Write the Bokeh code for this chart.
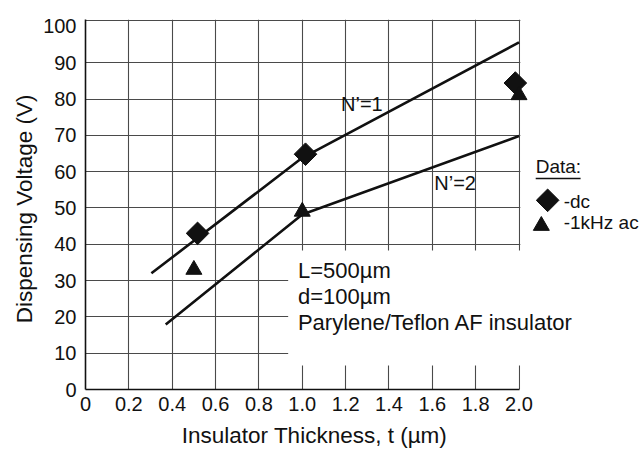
import numpy as np
from bokeh.plotting import figure
from bokeh.layouts import row, column
from bokeh.models import FixedTicker, Label, Range1d
from bokeh.core.properties import value
from bokeh.embed import file_html
from bokeh.resources import INLINE

# ---------------- data ----------------
thickness_dc = [0.517, 1.015, 1.983]
voltage_dc = [43.0, 64.8, 84.4]

thickness_ac = [0.50, 1.00, 2.00]
voltage_ac = [33.0, 49.0, 81.1]

n1_thickness = [0.304, 1.0, 2.0]
n1_voltage = [32.0, 63.8, 95.6]

n2_thickness = [0.370, 1.0, 2.0]
n2_voltage = [17.9, 48.2, 69.8]

x_ticks = [0.0, 0.2, 0.4, 0.6, 0.8, 1.0, 1.2, 1.4, 1.6, 1.8, 2.0]
x_tick_labels = ["0", "0.2", "0.4", "0.6", "0.8", "1.0", "1.2", "1.4", "1.6", "1.8", "2.0"]
y_ticks = [0, 10, 20, 30, 40, 50, 60, 70, 80, 90, 100]
y_tick_labels = ["0", "10", "20", "30", "40", "50", "60", "70", "80", "90", "100"]

x_title = "Insulator Thickness, t (\u00b5m)"
y_title = "Dispensing Voltage (V)"
annotation_lines = ["L=500\u00b5m", "d=100\u00b5m", "Parylene/Teflon AF insulator"]
legend_title = "Data:"
legend_labels = ["-dc", "-1kHz ac"]
curve_labels = ["N\u2019=1", "N\u2019=2"]

# ---------------- layout constants ----------------
X_MAX = 2.0        # end of the drawn axis
X_END = 2.5697     # frame extends to the right to hold the legend
Y_TOP = 101.9      # top border of the plot box
FONT = "Liberation Sans"
INK = "#111111"
GRID = "#4a4a4a"
W, H = 642, 449
YLAB_W = 40
XLAB_H = 29
MAIN_W, MAIN_H = W - YLAB_W, H - XLAB_H


def blank_panel(width, height, xr, yr):
    f = figure(width=width, height=height, x_range=Range1d(*xr), y_range=Range1d(*yr),
               output_backend="svg", toolbar_location=None,
               x_axis_type=None, y_axis_type=None, min_border=0)
    f.outline_line_color = None
    f.grid.visible = False
    f.background_fill_color = "white"
    f.border_fill_color = "white"
    return f


# ---------------- main plot ----------------
p = figure(width=MAIN_W, height=MAIN_H,
           x_range=Range1d(0, X_END), y_range=Range1d(0, Y_TOP),
           output_backend="svg", toolbar_location=None,
           min_border_left=84 - YLAB_W, min_border_right=0,
           min_border_top=19, min_border_bottom=31)
p.outline_line_color = None
p.background_fill_color = "white"
p.border_fill_color = "white"

# grid
p.xgrid.ticker = FixedTicker(ticks=x_ticks[1:])
p.ygrid.ticker = FixedTicker(ticks=y_ticks[1:-1] + [Y_TOP - 0.15])
for g in (p.xgrid, p.ygrid):
    g.grid_line_color = GRID
    g.grid_line_width = 1.1

# axes
p.xaxis.ticker = FixedTicker(ticks=x_ticks)
p.xaxis.major_label_overrides = dict(zip(x_ticks, x_tick_labels))
p.xaxis.bounds = (0, X_MAX)
p.yaxis.ticker = FixedTicker(ticks=y_ticks)
p.yaxis.major_label_overrides = dict(zip(y_ticks, y_tick_labels))
p.yaxis.bounds = (0, Y_TOP)
for ax in (p.xaxis, p.yaxis):
    ax.axis_line_color = INK
    ax.axis_line_width = 1.6
    ax.major_tick_out = 0
    ax.major_tick_in = 0
    ax.minor_tick_out = 0
    ax.minor_tick_in = 0
    ax.major_label_text_font = FONT
    ax.major_label_text_font_size = "20px"
    ax.major_label_text_color = INK
p.xaxis.major_label_standoff = 7
p.yaxis.major_label_standoff = 9

# white areas: right of x = 2.0 and behind the annotation
p.quad(left=[0.935, X_MAX + 0.006], right=[X_END + 0.1, X_END + 0.1],
       bottom=[6.6, -2], top=[38.3, Y_TOP + 2],
       fill_color="white", line_color=None)

# model curves
p.line(n1_thickness, n1_voltage, line_color=INK, line_width=2.6)
p.line(n2_thickness, n2_voltage, line_color=INK, line_width=2.6)

# data points
p.scatter(thickness_dc, voltage_dc, marker="square", angle=np.pi / 4,
          size=16, fill_color=INK, line_color=INK)
p.scatter(thickness_ac, voltage_ac, marker="triangle",
          size=16, fill_color=INK, line_color=INK)

# legend, drawn in the blank area right of the box
p.scatter([2.132], [52.1], marker="square", angle=np.pi / 4,
          size=16, fill_color=INK, line_color=INK)
p.scatter([2.103], [45.1], marker="triangle",
          size=16, fill_color=INK, line_color=INK)
p.line([2.077, 2.284], [58.1, 58.1], line_color=INK, line_width=1.5)


def add_text(x, y, text, size):
    p.add_layout(Label(x=x, y=y, text=text, text_font=FONT, text_font_size=size,
                       text_color=INK, text_baseline="middle", text_align="left"))


add_text(2.077, 61.3, legend_title, "19px")
add_text(2.206, 51.8, legend_labels[0], "19px")
add_text(2.206, 46.1, legend_labels[1], "19px")

add_text(1.179, 78.5, curve_labels[0], "20px")
add_text(1.609, 56.9, curve_labels[1], "20px")
for txt, yy in zip(annotation_lines, [32.8, 25.6, 18.45]):
    add_text(0.980, yy, txt, "22px")

# ---------------- axis titles (separate strips, screen-like coordinates) ----------------
ylab = blank_panel(YLAB_W, MAIN_H, (0, YLAB_W), (MAIN_H, 0))
ylab.text(x=[24], y=[215], text=[y_title], angle=np.pi / 2,
          text_font=value(FONT), text_font_size=value("22.5px"), text_color=INK,
          text_baseline="middle", text_align="center")

xlab = blank_panel(W, XLAB_H, (0, W), (H, MAIN_H))
xlab.text(x=[314], y=[435], text=[x_title],
          text_font=value(FONT), text_font_size=value("22.5px"), text_color=INK,
          text_baseline="middle", text_align="center")

layout = column(row(ylab, p, spacing=0), xlab, spacing=0)
open("out.html", "w").write(file_html(layout, INLINE))
